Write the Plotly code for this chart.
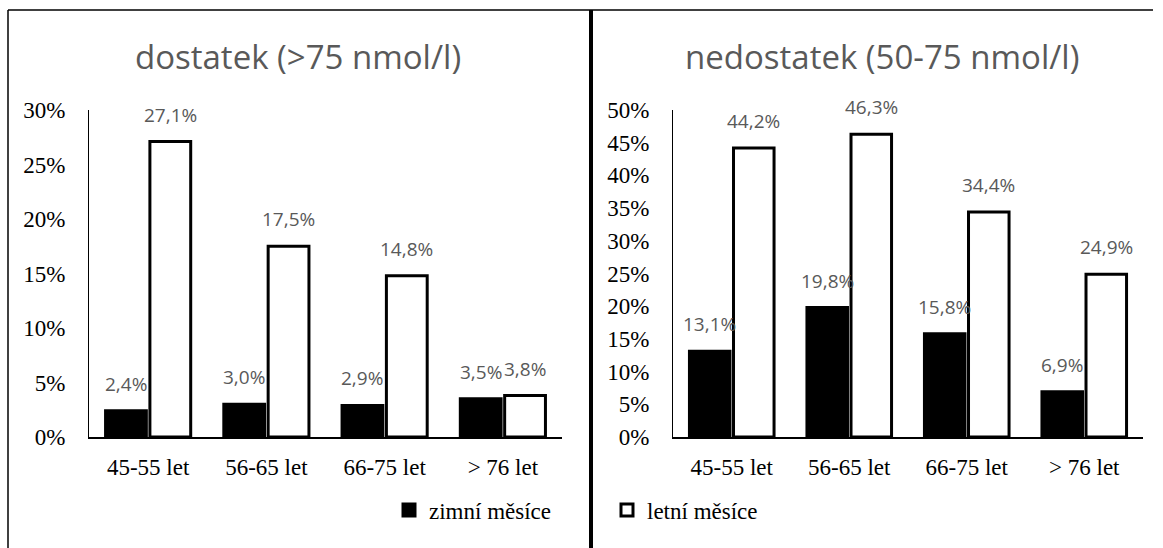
import plotly.graph_objects as go

categories = ["45-55 let", "56-65 let", "66-75 let", "> 76 let"]
series_names = ["zimní měsíce", "letní měsíce"]
dostatek_zimni = [2.4, 3.0, 2.9, 3.5]
dostatek_letni = [27.1, 17.5, 14.8, 3.8]
nedostatek_zimni = [13.1, 19.8, 15.8, 6.9]
nedostatek_letni = [44.2, 46.3, 34.4, 24.9]
titles = ["dostatek (>75 nmol/l)", "nedostatek (50-75 nmol/l)"]

W, H = 1163, 548
label_font = dict(family="Open Sans", size=19, color="#595959")
serif = "Liberation Serif, Times New Roman, serif"

fig = go.Figure()

def fmt(v):
    return f"{v:.1f}".replace(".", ",") + "%"

def add_pair(zimni, letni, xa, ya, leg_z, leg_l, half_offset):
    fig.add_trace(go.Bar(
        x=categories, y=zimni, name=series_names[0], xaxis=xa, yaxis=ya,
        marker=dict(color="black", line=dict(color="black", width=3)),
        cliponaxis=False, showlegend=leg_z, legend="legend"))
    fig.add_trace(go.Bar(
        x=categories, y=letni, name=series_names[1], xaxis=xa, yaxis=ya,
        marker=dict(color="white", line=dict(color="black", width=3)),
        cliponaxis=False, showlegend=leg_l, legend="legend2"))
    for vals, sign in ((zimni, -1), (letni, 1)):
        for c, v in zip(categories, vals):
            fig.add_annotation(x=c, y=v, xref=xa, yref=ya, text=fmt(v), showarrow=False,
                               xshift=sign * half_offset, yshift=12, yanchor="bottom",
                               xanchor="center", font=label_font)

add_pair(dostatek_zimni, dostatek_letni, "x", "y", True, False, 22.2)
add_pair(nedostatek_zimni, nedostatek_letni, "x2", "y2", False, True, 22.0)

tick_font = dict(family=serif, size=23, color="black")
ydom = [1 - 437 / H, 1 - 110 / H]

common_x = dict(showline=True, linecolor="black", linewidth=2, ticks="", automargin=False,
                tickfont=tick_font, ticklabelstandoff=8, showgrid=False)
common_y = dict(showline=True, linecolor="black", linewidth=1, ticks="", automargin=False,
                tickfont=tick_font, ticksuffix="%", dtick=5, showgrid=False,
                zeroline=False, ticklabelstandoff=18, domain=ydom)

legend_font = dict(family=serif, size=23, color="black")

fig.update_layout(
    width=W, height=H, margin=dict(l=0, r=0, t=0, b=0, autoexpand=False),
    paper_bgcolor="white", plot_bgcolor="white",
    font=dict(family=serif, color="black"),
    barmode="group", bargap=0.25, bargroupgap=0.08,
    xaxis=dict(domain=[89 / W, 562 / W], anchor="y", **common_x),
    yaxis=dict(range=[0, 30], anchor="x", **common_y),
    xaxis2=dict(domain=[673 / W, 1143 / W], anchor="y2", **common_x),
    yaxis2=dict(range=[0, 50], anchor="x2", **common_y),
    legend=dict(orientation="h", x=389 / W, y=1 - 510 / H, xanchor="left", yanchor="middle",
                font=legend_font, bgcolor="rgba(0,0,0,0)"),
    legend2=dict(orientation="h", x=607 / W, y=1 - 510 / H, xanchor="left", yanchor="middle",
                 font=legend_font, bgcolor="rgba(0,0,0,0)"),
    showlegend=True,
)

title_font = dict(family="Open Sans", size=33, color="#595959")
fig.add_annotation(text=titles[0], x=298 / W, y=1 - 57 / H, xref="paper", yref="paper",
                   showarrow=False, font=title_font, xanchor="center", yanchor="middle")
fig.add_annotation(text=titles[1], x=882 / W, y=1 - 57 / H, xref="paper", yref="paper",
                   showarrow=False, font=title_font, xanchor="center", yanchor="middle")

# frame lines
fig.add_shape(type="line", xref="paper", yref="paper", x0=8 / W, x1=8 / W, y0=0, y1=1 - 10 / H,
              line=dict(color="black", width=1.5))
fig.add_shape(type="line", xref="paper", yref="paper", x0=8 / W, x1=1153 / W, y0=1 - 10 / H, y1=1 - 10 / H,
              line=dict(color="black", width=1.5))
fig.add_shape(type="line", xref="paper", yref="paper", x0=591 / W, x1=591 / W, y0=0, y1=1 - 10 / H,
              line=dict(color="black", width=4))

fig.write_html("out.html")
